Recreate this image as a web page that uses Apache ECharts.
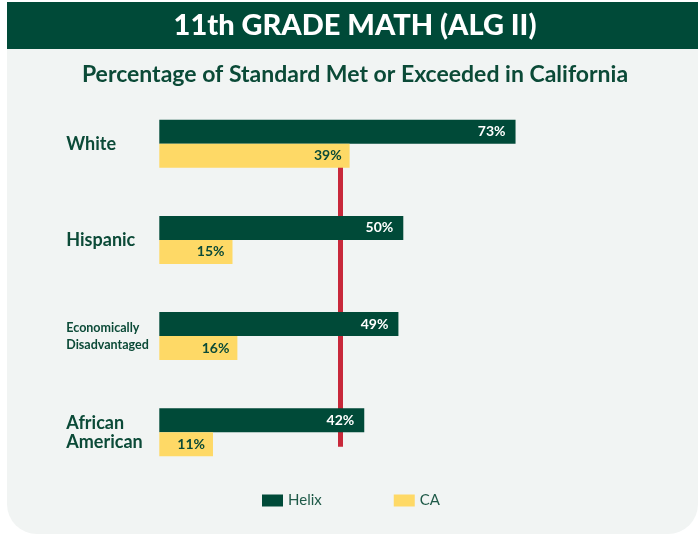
<!DOCTYPE html>
<html>
<head>
<meta charset="utf-8">
<script src="https://cdn.jsdelivr.net/npm/echarts@6/dist/echarts.min.js"></script>
<style>
  html, body { margin: 0; padding: 0; background: #ffffff; }
  #chart { width: 698px; height: 535px; }
</style>
</head>
<body>
<div id="chart"></div>
<script>
const categories = ['White', 'Hispanic', 'Economically Disadvantaged', 'African American'];
const helixValues = [73, 50, 49, 42];
const caValues = [39, 15, 16, 11];
const referenceValue = 37;
const seriesNames = ['Helix', 'CA'];
const titleText = '11th GRADE MATH (ALG II)';
const subtitleText = 'Percentage of Standard Met or Exceeded in California';

const GREEN = '#004a38';
const YELLOW = '#fed966';
const RED = '#c8283a';
const TEXT = '#0b4a37';
const FONT = 'Lato, "Open Sans", sans-serif';

const chart = echarts.init(document.getElementById('chart'), null, { renderer: 'canvas' });

const option = {
  backgroundColor: '#ffffff',
  animation: false,
  graphic: [
    { type: 'rect', z: -10, shape: { x: 7, y: 2, width: 691, height: 47 }, style: { fill: GREEN } },
    { type: 'rect', z: -10, shape: { x: 7, y: 49, width: 691, height: 485, r: [0, 0, 30, 30] }, style: { fill: '#f1f4f3' } },
    { type: 'text', z: 10, x: 355, y: 26, style: { text: titleText, fill: '#ffffff', font: '900 29px ' + FONT, textAlign: 'center', textVerticalAlign: 'middle' } },
    { type: 'text', z: 10, x: 355, y: 75, style: { text: subtitleText, fill: TEXT, font: 'bold 23px ' + FONT, textAlign: 'center', textVerticalAlign: 'middle' } }
  ],
  legend: {
    data: seriesNames,
    bottom: 22,
    left: 257,
    itemWidth: 21,
    itemHeight: 12,
    itemGap: 72,
    textStyle: { color: '#1f5a48', fontSize: 15, fontFamily: FONT },
    icon: 'rect'
  },
  grid: { left: 159.3, right: 50.7, top: 95.6, bottom: 54.6, containLabel: false },
  xAxis: {
    type: 'value', min: 0, max: 100,
    show: false
  },
  yAxis: {
    type: 'category',
    data: categories,
    inverse: true,
    axisLine: { show: false },
    axisTick: { show: false },
    splitLine: { show: false },
    axisLabel: {
      align: 'left',
      margin: 93,
      fontFamily: FONT,
      formatter: function (v) {
        if (v === 'Economically Disadvantaged') return '{small|Economically}\n{small|Disadvantaged}';
        if (v === 'African American') return '{big|African}\n{big|American}';
        return '{big|' + v + '}';
      },
      rich: {
        big: { fontSize: 18, fontWeight: 'bold', color: TEXT, fontFamily: FONT, lineHeight: 19 },
        small: { fontSize: 12.5, fontWeight: 'bold', color: TEXT, fontFamily: FONT, lineHeight: 17 }
      }
    }
  },
  series: [
    {
      name: seriesNames[0],
      type: 'bar',
      data: helixValues,
      barWidth: 24,
      barGap: '0%',
      z: 3,
      itemStyle: { color: GREEN },
      label: {
        show: true, position: 'insideRight', distance: 10,
        formatter: '{c}%', color: '#ffffff', fontSize: 14, fontWeight: 'bold', fontFamily: FONT
      }
    },
    {
      name: seriesNames[1],
      type: 'bar',
      data: caValues,
      barWidth: 24,
      barGap: '0%',
      z: 3,
      itemStyle: { color: YELLOW },
      label: {
        show: true, position: 'insideRight', distance: 8,
        formatter: '{c}%', color: TEXT, fontSize: 14, fontWeight: 'bold', fontFamily: FONT
      },
      markLine: {
        silent: true,
        symbol: 'none',
        z: 1,
        label: { show: false },
        lineStyle: { color: RED, width: 5, type: 'solid', cap: 'square' },
        data: [[
          { coord: [referenceValue, categories[0]] },
          { coord: [referenceValue, categories[categories.length - 1]] }
        ]]
      }
    }
  ]
};

chart.setOption(option);
</script>
</body>
</html>
